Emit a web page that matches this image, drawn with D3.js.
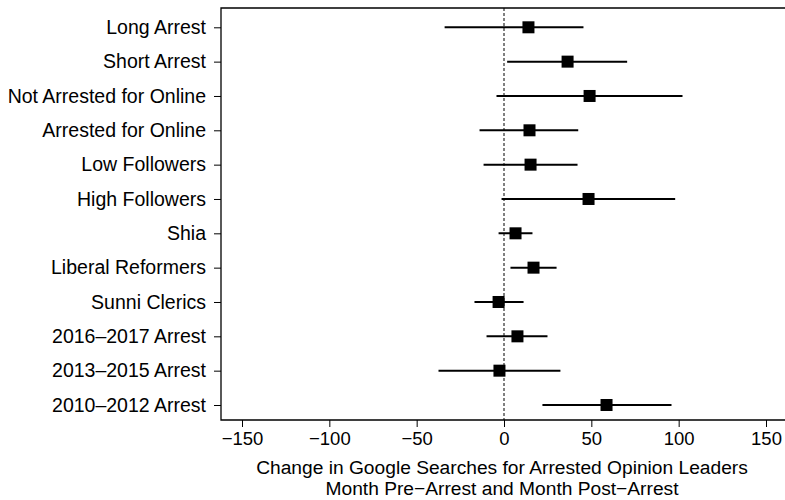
<!DOCTYPE html>
<html>
<head>
<meta charset="utf-8">
<script src="https://cdn.jsdelivr.net/npm/d3@7"></script>
<style>
body{margin:0;background:#fff;}
text{font-family:"Liberation Sans",Arial,sans-serif;fill:#000;}
</style>
</head>
<body>
<svg id="graph1"></svg>
<script>
var categories=["Long Arrest","Short Arrest","Not Arrested for Online","Arrested for Online",
    "Low Followers","High Followers","Shia","Liberal Reformers","Sunni Clerics",
    "2016\u20132017 Arrest","2013\u20132015 Arrest","2010\u20132012 Arrest"]
var estimates=[14.0,36.4,49.0,14.6,15.2,48.4,6.6,16.9,-3.1,7.7,-2.6,58.7]
var lower=[-34.0,1.8,-4.3,-14.0,-11.7,-1.4,-3.1,3.7,-16.9,-10.0,-37.5,22.0]
var upper=[45.5,70.5,102.2,42.5,42.1,98.0,16.3,30.1,11.2,24.9,32.3,95.9]
var xTicks=[-150,-100,-50,0,50,100,150]

var initGraph1=function()
    {
        var screen={width:785,height:500}
        var box={left:221,right:785,top:8,bottom:420}

        var svg=d3.select("#graph1")
            .attr("width",screen.width)
            .attr("height",screen.height)

        var xScale=d3.scaleLinear()
            .domain([-150,150])
            .range([242,766])

        var yScale=d3.scalePoint()
            .domain(categories)
            .range([27.3,405])

        var rows=categories.map(function(c,i)
            {
                return {name:c,est:estimates[i],lo:lower[i],hi:upper[i]}
            })

        // zero reference line
        svg.append("line")
            .attr("x1",xScale(0))
            .attr("x2",xScale(0))
            .attr("y1",box.top)
            .attr("y2",box.bottom)
            .attr("stroke","#000")
            .attr("stroke-width",1)
            .attr("stroke-dasharray","3,2")

        svg.append("g")
            .selectAll("line")
            .data(rows)
            .enter()
            .append("line")
            .attr("x1",function(d){return xScale(d.lo)})
            .attr("x2",function(d){return xScale(d.hi)})
            .attr("y1",function(d){return yScale(d.name)})
            .attr("y2",function(d){return yScale(d.name)})
            .attr("stroke","#000")
            .attr("stroke-width",2)

        svg.append("g")
            .selectAll("rect")
            .data(rows)
            .enter()
            .append("rect")
            .attr("x",function(d){return xScale(d.est)-6})
            .attr("y",function(d){return yScale(d.name)-6})
            .attr("width",12)
            .attr("height",12)
            .attr("fill","#000")

        // frame: left, top, bottom
        svg.append("path")
            .attr("d","M"+box.right+","+box.top+"H"+box.left+"V"+box.bottom+"H"+box.right)
            .attr("fill","none")
            .attr("stroke","#000")
            .attr("stroke-width",1.3)

        var xAxis=d3.axisBottom(xScale)
            .tickValues(xTicks)
            .tickSize(7)
            .tickPadding(5)
            .tickFormat(function(d){return d<0?"\u2212"+Math.abs(d):d})
        var gx=svg.append("g")
            .attr("transform","translate(0,"+box.bottom+")")
            .call(xAxis)
        gx.select(".domain").remove()
        gx.selectAll("line").attr("stroke","#000")
        gx.selectAll("text")
            .style("font-size","18.5px")
            .attr("font-family",null)

        var yAxis=d3.axisLeft(yScale)
            .tickSize(7)
            .tickPadding(8)
        var gy=svg.append("g")
            .attr("transform","translate("+box.left+",0)")
            .call(yAxis)
        gy.select(".domain").remove()
        gy.selectAll("line").attr("stroke","#000")
        gy.selectAll("text")
            .style("font-size","19.5px")
            .attr("font-family",null)

        var labels=svg.append("g")
        labels.append("text")
            .text("Change in Google Searches for Arrested Opinion Leaders")
            .attr("text-anchor","middle")
            .attr("x",xScale(0)-2)
            .attr("y",474)
            .style("font-size","19.2px")
        labels.append("text")
            .text("Month Pre\u2212Arrest and Month Post\u2212Arrest")
            .attr("text-anchor","middle")
            .attr("x",xScale(0)-2)
            .attr("y",495)
            .style("font-size","19.2px")
    }

initGraph1();
</script>
</body>
</html>
